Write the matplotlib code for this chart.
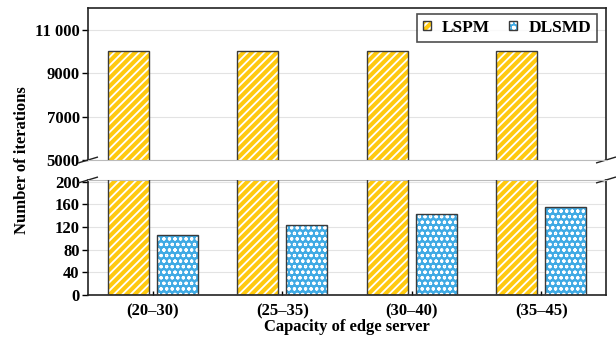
import matplotlib
matplotlib.use("Agg")
import matplotlib.pyplot as plt
import numpy as np

categories = ["(20\u201330)", "(25\u201335)", "(30\u201340)", "(35\u201345)"]
lspm = [10000, 10000, 10000, 10000]
dlsmd = [106, 124, 143, 156]
series_names = ["LSPM", "DLSMD"]
top_ticks = [5000, 7000, 9000, 11000]
top_labels = ["5000", "7000", "9000", "11 000"]
bottom_ticks = [0, 40, 80, 120, 160, 200]

plt.rcParams["font.family"] = ["Liberation Serif", "DejaVu Serif"]
plt.rcParams["font.weight"] = "bold"
plt.rcParams["hatch.linewidth"] = 1.3

fig = plt.figure(figsize=(6.16, 3.38), dpi=100)
L, R = 88 / 616, 606 / 616
ax_top = fig.add_axes([L, 1 - 160 / 338, R - L, (160 - 8) / 338])
ax_bot = fig.add_axes([L, 1 - 295 / 338, R - L, (295 - 180) / 338])

x = np.arange(len(categories))
w = 0.315
off = 0.19
gold = "#ffc90e"
blue = "#40aae4"
hatch_gold = "////"
hatch_blue = "ooo"


def set_hw(patches, lw):
    for p in patches:
        if hasattr(p, "set_hatch_linewidth"):
            p.set_hatch_linewidth(lw)


for ax in (ax_top, ax_bot):
    # filled, hatched bars
    b1 = ax.bar(x - off, lspm, w, color=gold, hatch=hatch_gold, edgecolor="white", linewidth=0, zorder=2)
    b2 = ax.bar(x + off, dlsmd, w, color=blue, hatch=hatch_blue, edgecolor="white", linewidth=0, zorder=2)
    set_hw(b1, 1.3)
    set_hw(b2, 0.8)
    # outlines
    ax.bar(x - off, lspm, w, fill=False, edgecolor="#3a3a3a", linewidth=1.0, zorder=3)
    ax.bar(x + off, dlsmd, w, fill=False, edgecolor="#3a3a3a", linewidth=1.0, zorder=3)
    ax.set_xlim(-0.5, 3.5)
    ax.grid(axis="y", color="#e3e3e3", linewidth=0.8, zorder=0)
    ax.set_axisbelow(True)
    for s in ("left", "right", "top", "bottom"):
        ax.spines[s].set_linewidth(1.2)
        ax.spines[s].set_color("#222222")
    ax.tick_params(axis="y", direction="out", length=4, width=1, labelsize=12, pad=2)

ax_top.set_ylim(5000, 12000)
ax_top.set_yticks(top_ticks)
ax_top.set_yticklabels(top_labels, fontweight="bold")
ax_top.spines["bottom"].set_color("#bbbbbb")
ax_top.spines["bottom"].set_linewidth(0.8)
ax_top.tick_params(axis="x", which="both", bottom=False, labelbottom=False)

ax_bot.set_ylim(0, 203)
ax_bot.set_yticks(bottom_ticks)
ax_bot.set_yticklabels([str(t) for t in bottom_ticks], fontweight="bold")
ax_bot.spines["top"].set_color("#bbbbbb")
ax_bot.spines["top"].set_linewidth(0.8)
ax_bot.set_xticks(x)
ax_bot.set_xticklabels(categories, fontsize=12, fontweight="bold")
ax_bot.tick_params(axis="x", direction="in", length=3, width=1, pad=6)

# break marks on both sides
d = 0.018
kw = dict(color="#222222", linewidth=1.0, clip_on=False)
for ax, yb in ((ax_top, 0), (ax_bot, 1)):
    h = d * (338 / 616) * (ax_top.get_position().width / ax.get_position().height)
    ax.plot([-d, d], [yb - h, yb + h], transform=ax.transAxes, **kw)
    ax.plot([1 - d, 1 + d], [yb - h, yb + h], transform=ax.transAxes, **kw)

fig.text(22 / 616, 1 - 160 / 338, "Number of iterations", rotation=90,
         ha="center", va="center", fontsize=12, fontweight="bold")
fig.text((L + R) / 2, 1 - 327 / 338, "Capacity of edge server",
         ha="center", va="center", fontsize=12, fontweight="bold")

# legend keys: hatched fill overlaid with a dark outline
fill_gold = plt.Rectangle((0, 0), 1, 1, facecolor=gold, hatch=hatch_gold, edgecolor="white", linewidth=0)
fill_blue = plt.Rectangle((0, 0), 1, 1, facecolor=blue, hatch=hatch_blue, edgecolor="white", linewidth=0)
outline = plt.Rectangle((0, 0), 1, 1, fill=False, edgecolor="#3a3a3a", linewidth=1.0)
leg = ax_top.legend([(fill_gold, outline), (fill_blue, outline)], series_names,
                    loc="upper right", bbox_to_anchor=(0.99, 0.985),
                    ncol=2, frameon=True, fancybox=False,
                    prop={"weight": "bold", "size": 12.5}, handlelength=0.45, handleheight=0.45,
                    columnspacing=1.1, handletextpad=0.65, borderpad=0.35, borderaxespad=0.2)
leg.get_frame().set_edgecolor("#222222")
leg.get_frame().set_linewidth(1.2)

fig.savefig("out.png", dpi=100)
